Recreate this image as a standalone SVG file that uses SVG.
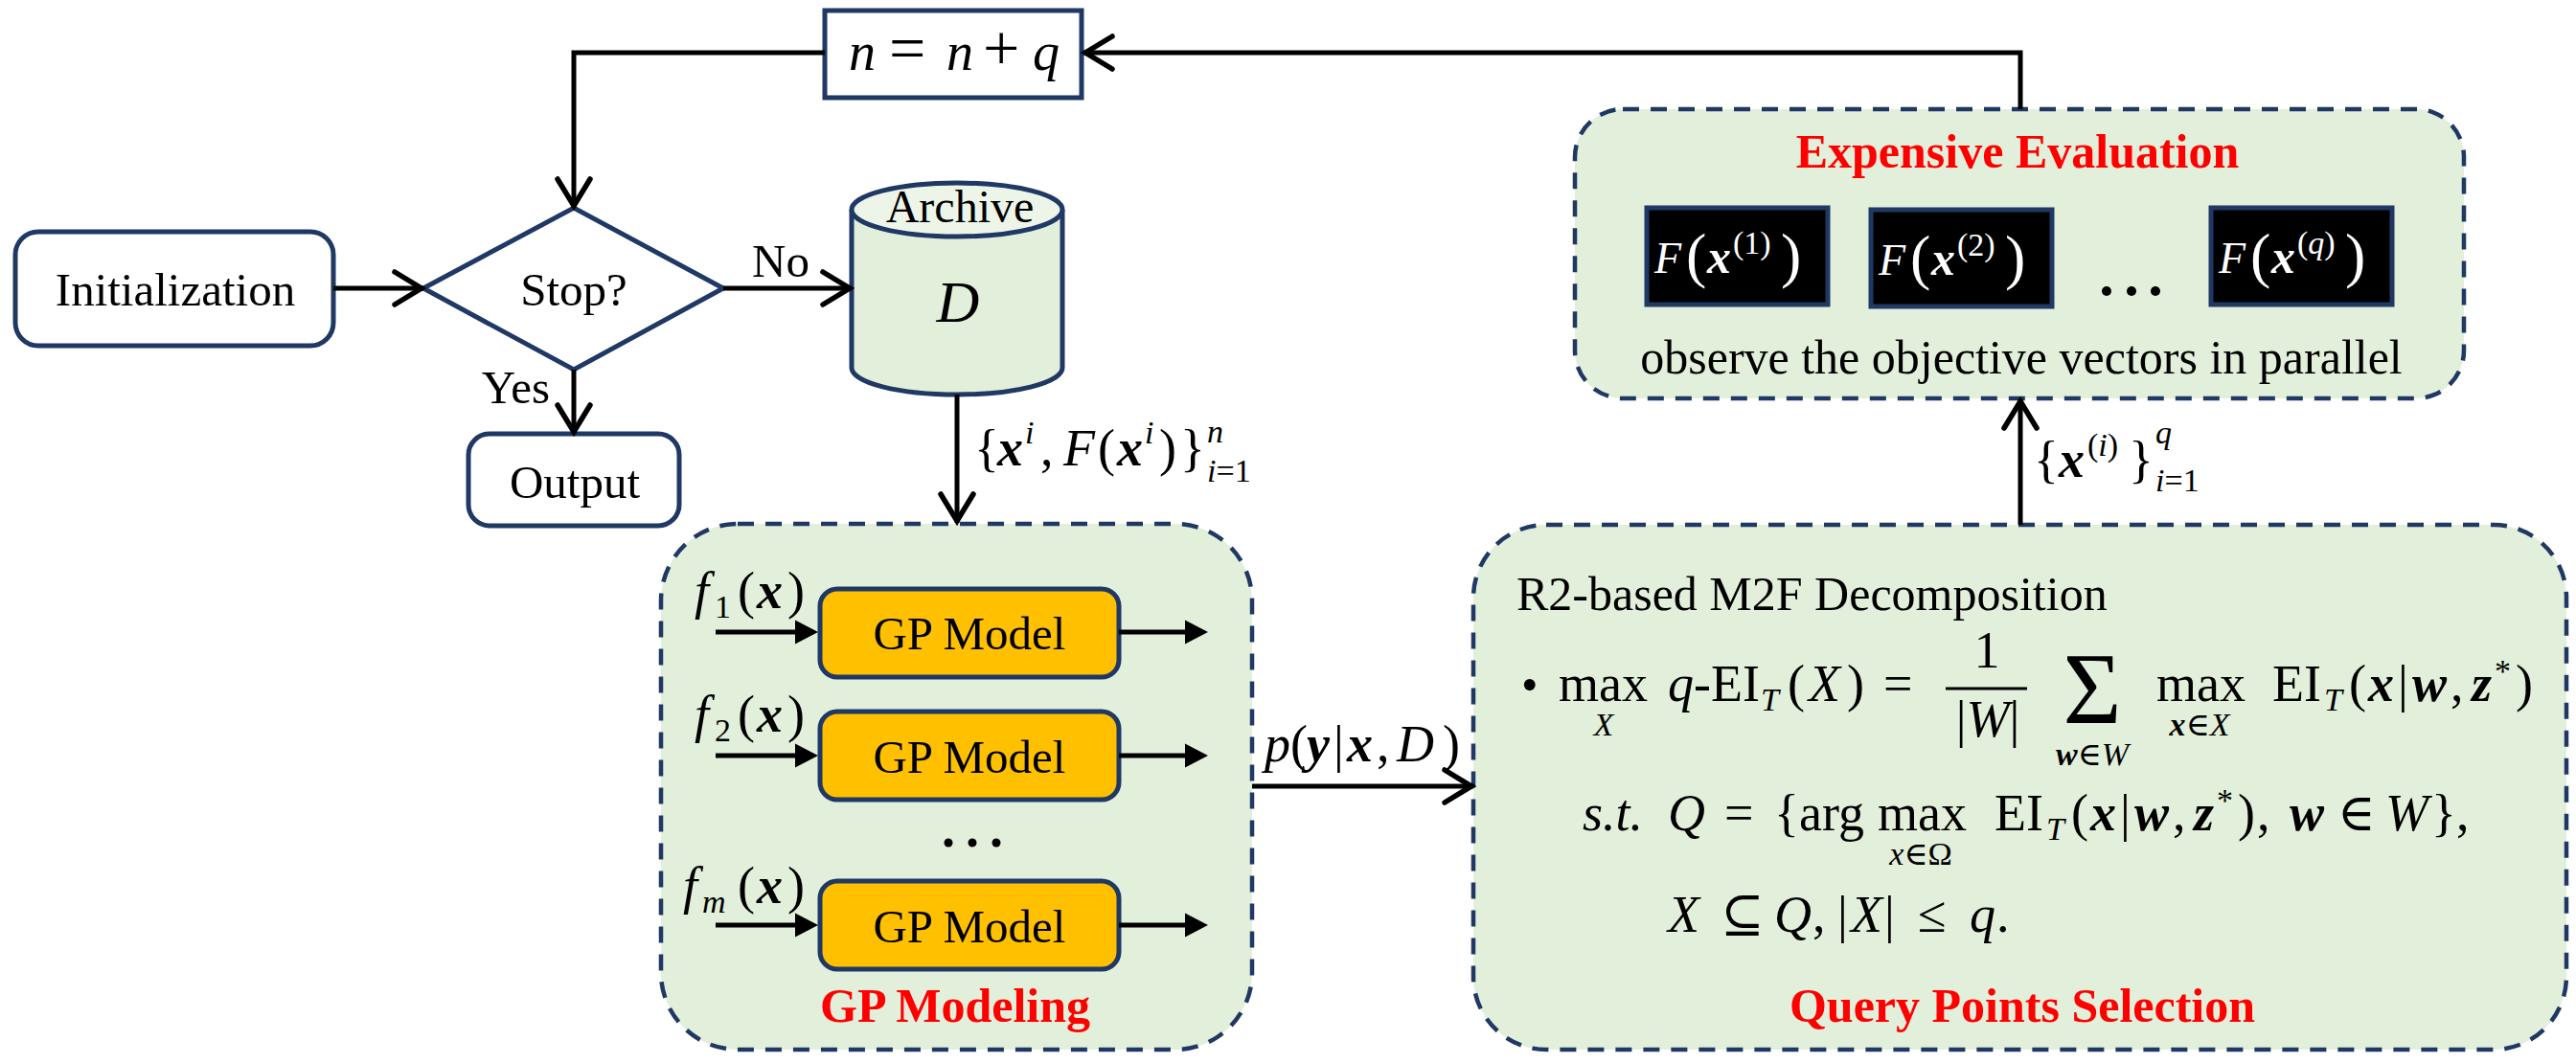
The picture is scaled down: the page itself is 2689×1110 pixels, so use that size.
<svg xmlns="http://www.w3.org/2000/svg" width="2689" height="1110" viewBox="0 0 2689 1110">
<style>
.t{font-family:"Liberation Serif","DejaVu Serif",serif;font-size:49px;fill:#000}
.m{font-family:"Liberation Serif","DejaVu Serif",serif;font-size:54px;fill:#000}
.s{font-size:34px}
.i{font-style:italic}
.b{font-style:italic;font-weight:bold}
.red{font-family:"Liberation Serif","DejaVu Serif",serif;font-size:50px;font-weight:bold;fill:#FF0000}
.box{fill:#fff;stroke:#1F3864;stroke-width:5}
.grp{fill:#E2EFDA;stroke:#1F3864;stroke-width:4.5;stroke-dasharray:17 12}
.gp{fill:#FFC000;stroke:#1F3864;stroke-width:5}
.blk{fill:#000;stroke:#1F3864;stroke-width:5}
.w{font-family:"Liberation Serif","DejaVu Serif",serif;font-size:50px;fill:#fff}
.ln{fill:none;stroke:#000;stroke-width:5}
.arr{marker-end:url(#open)}
.tarr{marker-end:url(#tri)}
</style>
<defs>
<marker id="open" markerUnits="userSpaceOnUse" viewBox="-34 -20 38 40" markerWidth="38" markerHeight="40" refX="0" refY="0" orient="auto">
<path d="M-30,-17 L-2,0 L-30,17" fill="none" stroke="#000" stroke-width="5.5" stroke-linecap="round"/>
</marker>
<marker id="tri" markerUnits="userSpaceOnUse" viewBox="-16 -14 30 28" markerWidth="30" markerHeight="28" refX="0" refY="0" orient="auto">
<path d="M-13,-12.5 L11,0 L-13,12.5 Z" fill="#000"/>
</marker>
</defs>
<rect width="2689" height="1110" fill="#fff"/>

<g id="gp-modeling">
<rect class="grp" x="690" y="547" width="617" height="549" rx="80"/>
<text class="red" x="997" y="1067" text-anchor="middle">GP Modeling</text>
</g>
<g id="query-selection">
<rect class="grp" x="1538" y="548" width="1141" height="548" rx="76"/>
<text class="t" x="1583" y="637" style="font-size:50px">R2-based M2F Decomposition</text>
<text class="m" y="732" style="font-size:50px"><tspan x="1588">•</tspan></text>
<text class="m" y="732"><tspan x="1627">max</tspan></text>
<text class="m s i" x="1674" y="768" text-anchor="middle">X</text>
<text class="m" y="732"><tspan x="1741" class="i">q</tspan><tspan x="1768">-EI</tspan><tspan x="1838" y="742" class="s i">T</tspan><tspan x="1866" y="732">(</tspan><tspan x="1888" class="i">X</tspan><tspan x="1928">)</tspan><tspan x="1966">=</tspan></text>
<text class="m" x="2074" y="697" text-anchor="middle">1</text>
<line x1="2031" y1="719" x2="2116" y2="719" stroke="#000" stroke-width="3"/>
<text class="m" x="2075" y="769" text-anchor="middle">|<tspan class="i">W</tspan>|</text>
<text class="m" x="2184" y="755" text-anchor="middle" style="font-size:105px">Σ</text>
<text class="m s" x="2184" y="799" text-anchor="middle"><tspan class="b">w</tspan>∈<tspan class="i">W</tspan></text>
<text class="m" x="2251" y="732">max</text>
<text class="m s" x="2296" y="768" text-anchor="middle"><tspan class="b">x</tspan>∈<tspan class="i">X</tspan></text>
<text class="m" y="732"><tspan x="2372">EI</tspan><tspan x="2426" y="742" class="s i">T</tspan><tspan x="2452" y="732">(</tspan><tspan x="2472" class="b">x</tspan><tspan x="2503">|</tspan><tspan x="2518" class="b">w</tspan><tspan x="2558">,</tspan><tspan x="2580" class="b">z</tspan><tspan x="2604" y="712" class="s">*</tspan><tspan x="2626" y="732">)</tspan></text>
<text class="m" y="867"><tspan x="1652" class="i">s.t.</tspan><tspan x="1741" class="i">Q</tspan><tspan x="1800">=</tspan><tspan x="1852">{</tspan><tspan x="1878">arg</tspan><tspan x="1960">max</tspan><tspan x="2082">EI</tspan><tspan x="2136" y="877" class="s i">T</tspan><tspan x="2162" y="867">(</tspan><tspan x="2182" class="b">x</tspan><tspan x="2213">|</tspan><tspan x="2228" class="b">w</tspan><tspan x="2268">,</tspan><tspan x="2290" class="b">z</tspan><tspan x="2314" y="847" class="s">*</tspan><tspan x="2336" y="867">)</tspan><tspan x="2356">,</tspan><tspan x="2390" class="b">w</tspan><tspan x="2440">∈</tspan><tspan x="2490" class="i">W</tspan><tspan x="2538">}</tspan><tspan x="2564">,</tspan></text>
<text class="m s" x="2005" y="903" text-anchor="middle"><tspan class="i">x</tspan>∈Ω</text>
<text class="m" y="973"><tspan x="1741" class="i">X</tspan><tspan x="1796">⊆</tspan><tspan x="1852" class="i">Q</tspan><tspan x="1892">,</tspan><tspan x="1918">|</tspan><tspan x="1932" class="i">X</tspan><tspan x="1967">|</tspan><tspan x="2002">≤</tspan><tspan x="2056" class="i">q</tspan><tspan x="2084">.</tspan></text>
<text class="red" x="2111" y="1067" text-anchor="middle">Query Points Selection</text>
</g>
<g id="expensive-evaluation">
<rect class="grp" x="1644" y="114" width="928" height="302" rx="50"/>
<text class="red" x="2106" y="175" text-anchor="middle">Expensive Evaluation</text>
<text class="t" x="2110" y="390" text-anchor="middle" style="font-size:50px">observe the objective vectors in parallel</text>
<circle cx="2199" cy="304" r="5"/><circle cx="2225" cy="304" r="5"/><circle cx="2250" cy="304" r="5"/>
</g>
<g id="eval-1">
<rect class="blk" x="1719" y="217" width="189" height="101"/>
<text class="w"><tspan x="1727" y="285" class="i" style="font-size:46px">F</tspan><tspan x="1760" y="288" style="font-size:64px">(</tspan><tspan x="1782" y="285" class="b">x</tspan><tspan x="1809" y="265" style="font-size:34px">(1)</tspan><tspan x="1859" y="288" style="font-size:64px">)</tspan></text>
</g>
<g id="eval-2">
<rect class="blk" x="1953" y="219" width="189" height="101"/>
<text class="w"><tspan x="1961" y="287" class="i" style="font-size:46px">F</tspan><tspan x="1994" y="290" style="font-size:64px">(</tspan><tspan x="2016" y="287" class="b">x</tspan><tspan x="2043" y="267" style="font-size:34px">(2)</tspan><tspan x="2093" y="290" style="font-size:64px">)</tspan></text>
</g>
<g id="eval-q">
<rect class="blk" x="2308" y="217" width="189" height="101"/>
<text class="w"><tspan x="2316" y="285" class="i" style="font-size:46px">F</tspan><tspan x="2349" y="288" style="font-size:64px">(</tspan><tspan x="2371" y="285" class="b">x</tspan><tspan x="2398" y="265" style="font-size:34px">(<tspan class="i">q</tspan>)</tspan><tspan x="2448" y="288" style="font-size:64px">)</tspan></text>
</g>

<g id="initialization">
<rect class="box" x="16" y="242" width="332" height="119" rx="24"/>
<text class="t" x="183" y="319" text-anchor="middle">Initialization</text>
</g>
<g id="stop">
<polygon class="box" points="442,301 599,217 755,301 599,386"/>
<text class="t" x="599" y="319" text-anchor="middle">Stop?</text>
</g>
<g id="output">
<rect class="box" x="489" y="453" width="220" height="96" rx="22"/>
<text class="t" x="600" y="520" text-anchor="middle">Output</text>
</g>
<g id="counter">
<rect class="box" x="861" y="11" width="268" height="91"/>
<text class="m" y="73" style="font-size:56px"><tspan x="886" class="i">n</tspan><tspan x="928" style="font-size:68px">=</tspan><tspan x="988" class="i">n</tspan><tspan x="1026" style="font-size:68px">+</tspan><tspan x="1078" class="i">q</tspan></text>
</g>
<g id="archive">
<path d="M889,219 V384 A110,28 0 0 0 1109,384 V219" fill="#E2EFDA" stroke="#1F3864" stroke-width="5"/>
<ellipse cx="999" cy="219" rx="110" ry="28" fill="#EDF5E8" stroke="#1F3864" stroke-width="5"/>
<text class="t" x="1002" y="232" text-anchor="middle" style="font-size:48px">Archive</text>
<text class="t i" x="1000" y="336" text-anchor="middle" style="font-size:62px">D</text>
</g>
<g id="gp-model-1">
<rect class="gp" x="856" y="615" width="312" height="92" rx="18"/>
<text class="t" x="1012" y="678" text-anchor="middle">GP Model</text>
</g>
<g id="gp-model-2">
<rect class="gp" x="856" y="743" width="312" height="92" rx="18"/>
<text class="t" x="1012" y="807" text-anchor="middle">GP Model</text>
</g>
<g id="gp-model-m">
<rect class="gp" x="856" y="920" width="312" height="92" rx="18"/>
<text class="t" x="1012" y="984" text-anchor="middle">GP Model</text>
</g>
<g id="gp-dots">
<circle cx="990" cy="880" r="4.5"/><circle cx="1015" cy="880" r="4.5"/><circle cx="1040" cy="880" r="4.5"/>
</g>

<g id="connectors">
<path class="ln arr" d="M348,301 H442"/>
<path class="ln arr" d="M755,301 H889"/>
<path class="ln arr" d="M599,386 V453"/>
<path class="ln arr" d="M2109,114 V55 H1131"/>
<path class="ln arr" d="M861,55 H599 V217"/>
<path class="ln arr" d="M999,412 V546"/>
<path class="ln arr" d="M1307,821 H1538"/>
<path class="ln arr" d="M2109,548 V417"/>
<path class="ln tarr" d="M747,660 H843"/>
<path class="ln tarr" d="M747,789 H843"/>
<path class="ln tarr" d="M747,966 H843"/>
<path class="ln tarr" d="M1168,660 H1250"/>
<path class="ln tarr" d="M1168,789 H1250"/>
<path class="ln tarr" d="M1168,966 H1250"/>
</g>

<g id="labels">
<text class="t" x="785" y="289">No</text>
<text class="t" x="574" y="421" text-anchor="end">Yes</text>
<text class="m"><tspan x="1017" y="486">{</tspan><tspan x="1041" class="b">x</tspan><tspan x="1070" y="463" class="s i">i</tspan><tspan x="1086" y="486">,</tspan><tspan x="1110" class="i">F</tspan><tspan x="1146">(</tspan><tspan x="1166" class="b">x</tspan><tspan x="1195" y="463" class="s i">i</tspan><tspan x="1210" y="486">)</tspan><tspan x="1232">}</tspan><tspan x="1260" y="462" class="s i">n</tspan></text>
<text class="m s" x="1260" y="503"><tspan class="i">i</tspan>=1</text>
<text class="m"><tspan x="2123" y="498">{</tspan><tspan x="2149" class="b">x</tspan><tspan x="2179" y="476" class="s">(<tspan class="i">i</tspan>)</tspan><tspan x="2222" y="498">}</tspan><tspan x="2250" y="463" class="s i">q</tspan></text>
<text class="m s" x="2250" y="513"><tspan class="i">i</tspan>=1</text>
<text class="m"><tspan x="1320" y="795" class="i">p</tspan><tspan x="1347">(</tspan><tspan x="1364" class="b">y</tspan><tspan x="1392">|</tspan><tspan x="1406" class="b">x</tspan><tspan x="1437">,</tspan><tspan x="1458" class="i">D</tspan><tspan x="1506">)</tspan></text>
<text class="m"><tspan x="725" y="635" class="i">f</tspan><tspan x="746" y="645" class="s">1</tspan><tspan x="770" y="635">(</tspan><tspan x="790" class="b">x</tspan><tspan x="822">)</tspan></text>
<text class="m"><tspan x="725" y="764" class="i">f</tspan><tspan x="746" y="774" class="s">2</tspan><tspan x="770" y="764">(</tspan><tspan x="790" class="b">x</tspan><tspan x="822">)</tspan></text>
<text class="m"><tspan x="713" y="943" class="i">f</tspan><tspan x="733" y="953" class="s i">m</tspan><tspan x="770" y="943">(</tspan><tspan x="790" class="b">x</tspan><tspan x="822">)</tspan></text>
</g>
</svg>
